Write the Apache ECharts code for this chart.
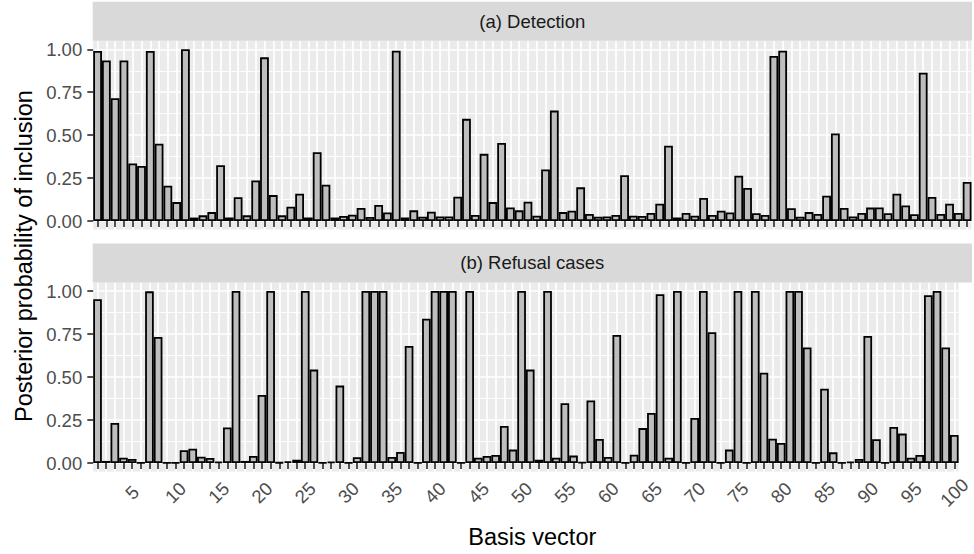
<!DOCTYPE html>
<html>
<head>
<meta charset="utf-8">
<script src="https://cdn.jsdelivr.net/npm/echarts@6/dist/echarts.min.js"></script>
<style>
html,body{margin:0;padding:0;background:#fff;}
#chart{width:974px;height:554px;}
</style>
</head>
<body>
<div id="chart"></div>
<script>
// ---- data ----
const categories = Array.from({length: 100}, (_, i) => String(i + 1));

const detection = [
  0.990, 0.935, 0.715, 0.935, 0.335, 0.320, 0.990, 0.450, 0.205, 0.110,
  1.000, 0.020, 0.033, 0.052, 0.325, 0.021, 0.138, 0.033, 0.236, 0.953,
  0.151, 0.033, 0.083, 0.159, 0.021, 0.401, 0.211, 0.021, 0.029, 0.037,
  0.076, 0.023, 0.093, 0.050, 0.992, 0.021, 0.062, 0.025, 0.054, 0.027,
  0.027, 0.141, 0.595, 0.035, 0.391, 0.110, 0.455, 0.079, 0.062, 0.112,
  0.031, 0.300, 0.643, 0.052, 0.060, 0.196, 0.041, 0.025, 0.027, 0.035,
  0.267, 0.031, 0.029, 0.047, 0.101, 0.438, 0.021, 0.047, 0.031, 0.134,
  0.035, 0.060, 0.050, 0.264, 0.192, 0.045, 0.035, 0.961, 0.992, 0.074,
  0.025, 0.052, 0.041, 0.147, 0.510, 0.076, 0.027, 0.047, 0.078, 0.079,
  0.045, 0.159, 0.091, 0.039, 0.864, 0.140, 0.041, 0.101, 0.047, 0.227
];

const refusal = [
  0.952, 0.012, 0.233, 0.031, 0.023, 0.002, 0.998, 0.733, 0.002, 0.002,
  0.074, 0.083, 0.037, 0.029, 0.008, 0.207, 1.000, 0.012, 0.041, 0.395,
  1.000, 0.003, 0.010, 0.019, 1.000, 0.543, 0.002, 0.008, 0.450, 0.002,
  0.033, 1.000, 1.000, 1.000, 0.035, 0.064, 0.680, 0.002, 0.839, 1.000,
  1.000, 1.000, 0.002, 1.000, 0.031, 0.041, 0.047, 0.215, 0.078, 1.000,
  0.543, 0.019, 1.000, 0.031, 0.347, 0.043, 0.004, 0.364, 0.140, 0.035,
  0.744, 0.002, 0.048, 0.203, 0.291, 0.981, 0.031, 1.000, 0.002, 0.262,
  1.000, 0.760, 0.002, 0.078, 1.000, 0.002, 1.000, 0.525, 0.141, 0.116,
  1.000, 1.000, 0.672, 0.002, 0.432, 0.062, 0.002, 0.008, 0.023, 0.738,
  0.138, 0.002, 0.209, 0.171, 0.031, 0.047, 0.975, 1.000, 0.672, 0.163
];

const yMajorTicks = [0, 0.25, 0.5, 0.75, 1];
const yMinorTicks = [0.125, 0.375, 0.625, 0.875];
const xLabelEvery = 5;
const panelTitles = ['(a) Detection', '(b) Refusal cases'];
const xTitle = 'Basis vector';
const yTitle = 'Posterior probability of inclusion';

// ---- layout ----
const FONT = '"Liberation Sans", Arial, Helvetica, sans-serif';
const gridLeft = 93.2, gridWidth = 878.3;
const panels = [
  {top: 40.7, height: 188.9},
  {top: 282.4, height: 189.2}
];
const stripH = 39;

const chart = echarts.init(document.getElementById('chart'), null, {renderer: 'svg'});

const grids = panels.map(p => ({
  left: gridLeft, width: gridWidth, top: p.top, height: p.height,
  show: true, backgroundColor: '#EBEBEB', borderWidth: 0, containLabel: false
}));

const xAxes = panels.map((p, gi) => ({
  type: 'category', gridIndex: gi, data: categories, boundaryGap: true,
  axisLine: {show: false},
  axisTick: {show: true, alignWithLabel: true, interval: 0, length: 5.9,
             lineStyle: {color: '#333333', width: 1.7}},
  axisLabel: {
    show: gi === 1,
    interval: (idx) => (idx + 1) % xLabelEvery === 0,
    rotate: 45, align: 'center', verticalAlign: 'middle', margin: 21,
    color: '#4D4D4D', fontSize: 18.5, fontFamily: FONT
  },
  splitLine: {show: true, interval: 0, alignWithLabel: true,
              lineStyle: {color: '#FFFFFF', width: 1.7}}
}));

const yAxes = [];
panels.forEach((p, gi) => {
  yAxes.push({
    type: 'value', gridIndex: gi, min: -0.05, max: 1.05, position: 'left',
    axisLine: {show: false},
    axisTick: {show: true, length: 5.9, customValues: yMajorTicks,
               lineStyle: {color: '#333333', width: 1.7}},
    axisLabel: {show: true, customValues: yMajorTicks, margin: 11,
                formatter: v => v.toFixed(2),
                color: '#4D4D4D', fontSize: 18.5, fontFamily: FONT},
    splitLine: {show: true, lineStyle: {color: '#FFFFFF', width: 1.7}}
  });
  yAxes.push({
    type: 'value', gridIndex: gi, min: -0.05, max: 1.05, position: 'right',
    axisLine: {show: false},
    axisTick: {show: false, customValues: yMinorTicks},
    axisLabel: {show: false, customValues: yMinorTicks},
    splitLine: {show: true, lineStyle: {color: '#FFFFFF', width: 0.85}}
  });
});

const barStyle = {color: '#BEBEBE', borderColor: '#000000', borderWidth: 1.8};

const series = [detection, refusal].map((vals, gi) => ({
  type: 'bar', xAxisIndex: gi, yAxisIndex: gi * 2, data: vals,
  barCategoryGap: '0%', barWidth: '100%', itemStyle: barStyle,
  emphasis: {disabled: true}, silent: true, animation: false
}));

const graphics = [];
panels.forEach((p, gi) => {
  graphics.push({
    type: 'rect', left: 92.7, top: p.top - stripH, z: 10,
    shape: {x: 0, y: 0, width: 879.3, height: stripH},
    style: {fill: '#D9D9D9'}
  });
  graphics.push({
    type: 'text', x: 532.3, y: p.top - stripH / 2, z: 11,
    style: {text: panelTitles[gi], fill: '#1A1A1A', font: '18.5px ' + FONT,
            textAlign: 'center', textVerticalAlign: 'middle'}
  });
});
graphics.push({
  type: 'text', x: 532.3, y: 537, z: 11,
  style: {text: xTitle, fill: '#000000', font: '23.5px ' + FONT,
          textAlign: 'center', textVerticalAlign: 'middle'}
});
graphics.push({
  type: 'text', x: 24, y: 256, rotation: Math.PI / 2, z: 11,
  style: {text: yTitle, fill: '#000000', font: '23.5px ' + FONT,
          textAlign: 'center', textVerticalAlign: 'middle'}
});

chart.setOption({
  animation: false,
  backgroundColor: '#FFFFFF',
  textStyle: {fontFamily: FONT},
  grid: grids,
  xAxis: xAxes,
  yAxis: yAxes,
  series: series,
  graphic: graphics
});
</script>
</body>
</html>
